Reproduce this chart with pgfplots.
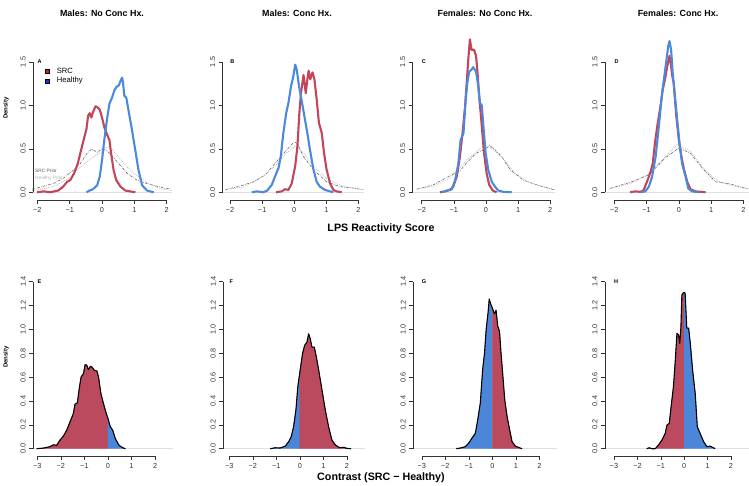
\documentclass[border=0pt]{standalone}
\usepackage{pgfplots}
\pgfplotsset{compat=1.18}
\usepackage{fontspec}
\setmainfont{Liberation Sans}
\definecolor{srcl}{HTML}{C2455A}
\definecolor{hell}{HTML}{4A89DC}
\definecolor{srcf}{HTML}{BB4A5E}
\definecolor{helf}{HTML}{4C86D9}
\definecolor{legr}{HTML}{D01C1C}
\definecolor{legb}{HTML}{1F2FE8}
\definecolor{axc}{HTML}{333333}
\pgfplotsset{
 base/.style={scale only axis, anchor=south west, clip=false, axis lines*=left,
   axis line style={draw=none}, tick align=outside, major tick length=4pt,
   tick style={axc, line width=0.5pt},
   tick label style={font=\fontsize{7.3}{8}\selectfont, text=axc},
   yticklabel style={rotate=90, anchor=south},
   xticklabel style={anchor=north},
   /pgf/number format/assume math mode=true},
 top/.style={base, ymin=-0.089, ymax=1.9, height=172.8pt, xmax=2.16,
   xtick={-2,-1,0,1,2}, xticklabels={−2,−1,0,1,2},
   ytick={0,0.5,1,1.5}, yticklabels={0.0,0.5,1.0,1.5}},
 bot/.style={base, ymin=-0.061, ymax=1.45, height=180.3pt, xmax=2.77,
   xtick={-3,-2,-1,0,1,2}, xticklabels={−3,−2,−1,0,1,2},
   ytick={0,0.2,0.4,0.6,0.8,1.0,1.2,1.4}, yticklabels={0.0,0.2,0.4,0.6,0.8,1.0,1.2,1.4}},
 srcline/.style={srcl, line width=2.1pt, line join=round},
 helline/.style={hell, line width=2.1pt, line join=round},
 sprior/.style={black!65, line width=0.55pt, dash pattern=on 2.5pt off 1.2pt on 0.6pt off 1.2pt},
 hprior/.style={black!30, line width=0.55pt, dash pattern=on 1pt off 1pt},
 zline/.style={black!12, line width=0.5pt, forget plot},
 outl/.style={black, line width=1.1pt, line join=round},
 rfill/.style={fill=srcf, draw=srcf, line width=0.4pt},
 bfill/.style={fill=helf, draw=helf, line width=0.4pt},
}
\newcommand{\topaxes}[1]{\draw[axc, line width=0.5pt] (axis cs:-2,-0.089) -- (axis cs:2,-0.089);
  \draw[axc, line width=0.5pt] (axis cs:#1,0) -- (axis cs:#1,1.5);}
\newcommand{\botaxes}[1]{\draw[axc, line width=0.5pt] (axis cs:-3,-0.061) -- (axis cs:2,-0.061);
  \draw[axc, line width=0.5pt] (axis cs:#1,0) -- (axis cs:#1,1.4);}
\newcommand{\plet}[3]{\node[anchor=west, inner sep=0pt, font=\bfseries\fontsize{5.5}{6}\selectfont] at (axis cs:#1,#2) {#3};}
\begin{document}
\begin{tikzpicture}[x=1pt,y=1pt]
\useasboundingbox (0,0) rectangle (749,486);
% ---------------- A ----------------
\begin{axis}[top, at={(33.3pt,286pt)}, xmin=-2.124, width=138.6pt]
\addplot[zline] coordinates {(-2.124,0) (2.16,0)};
\addplot[sprior] coordinates {(-2.16,0.035) (-1.8,0.07) (-1.5,0.1) (-1.2,0.16) (-0.93,0.24) (-0.67,0.33) (-0.46,0.45) (-0.31,0.5) (-0.15,0.46) (0.0,0.5) (0.15,0.48) (0.3,0.42) (0.52,0.33) (0.77,0.22) (1.08,0.14) (1.39,0.1) (1.7,0.07) (2.0,0.04) (2.15,0.05)};
\addplot[hprior] coordinates {(-2.16,0.02) (-1.8,0.04) (-1.4,0.08) (-1.0,0.17) (-0.67,0.29) (-0.26,0.41) (-0.05,0.45) (0.13,0.52) (0.3,0.5) (0.46,0.43) (0.7,0.32) (0.98,0.22) (1.39,0.11) (1.8,0.04) (2.15,0.02)};
\addplot[srcline] coordinates {(-2.01,0) (-1.8,0.01) (-1.6,0) (-1.35,0.02) (-1.2,0.065) (-1.08,0.12) (-0.98,0.14) (-0.86,0.22) (-0.75,0.33) (-0.67,0.45) (-0.57,0.6) (-0.48,0.73) (-0.43,0.88) (-0.38,0.91) (-0.33,0.86) (-0.28,0.92) (-0.2,0.99) (-0.15,0.98) (-0.07,0.95) (0,0.86) (0.07,0.75) (0.15,0.67) (0.23,0.6) (0.28,0.45) (0.36,0.25) (0.44,0.14) (0.57,0.065) (0.72,0.02) (0.87,0.01) (1.03,0)};
\addplot[helline] coordinates {(-0.48,0) (-0.38,0.02) (-0.28,0.035) (-0.15,0.08) (-0.07,0.18) (0,0.37) (0.07,0.6) (0.15,0.83) (0.23,1.02) (0.31,1.09) (0.38,1.17) (0.44,1.21) (0.52,1.23) (0.57,1.28) (0.62,1.32) (0.65,1.26) (0.69,1.11) (0.75,1.09) (0.82,0.94) (0.93,0.71) (1.03,0.48) (1.13,0.25) (1.24,0.08) (1.39,0.02) (1.6,0)};
\topaxes{-2.124}
\plet{-2}{1.5}{A}
\node[draw=black, line width=0.3pt, fill=legr, minimum size=4.5pt, inner sep=0pt] at (axis cs:-1.70,1.396) {};
\node[draw=black, line width=0.3pt, fill=legb, minimum size=4.5pt, inner sep=0pt] at (axis cs:-1.70,1.281) {};
\node[anchor=west, inner sep=0pt, font=\fontsize{7.6}{8}\selectfont] at (axis cs:-1.40,1.396) {SRC};
\node[anchor=west, inner sep=0pt, font=\fontsize{7.6}{8}\selectfont] at (axis cs:-1.40,1.281) {Healthy};
\node[anchor=west, inner sep=0pt, text=black!65, font=\fontsize{4.8}{5}\selectfont] at (axis cs:-2.07,0.245) {SRC Prior};
\node[anchor=west, inner sep=0pt, text=black!30, font=\fontsize{4.8}{5}\selectfont] at (axis cs:-2.07,0.165) {Healthy Prior};
\end{axis}
% ---------------- B ----------------
\begin{axis}[top, at={(222.7pt,286pt)}, xmin=-2.23, width=140.8pt]
\addplot[zline] coordinates {(-2.23,0) (2.16,0)};
\addplot[sprior] coordinates {(-2.15,0.03) (-1.7,0.07) (-1.27,0.12) (-0.9,0.2) (-0.65,0.31) (-0.4,0.42) (-0.2,0.5) (0,0.58) (0.1,0.56) (0.29,0.41) (0.6,0.26) (1.01,0.12) (1.43,0.065) (1.8,0.05) (2.15,0.03)};
\addplot[hprior] coordinates {(-2.15,0.03) (-1.6,0.06) (-1.1,0.15) (-0.6,0.3) (-0.25,0.45) (0.03,0.53) (0.3,0.45) (0.6,0.3) (1.0,0.16) (1.5,0.07) (2.15,0.03)};
\addplot[srcline] coordinates {(-0.57,0) (-0.39,0.01) (-0.29,0.035) (-0.18,0.027) (-0.08,0.1) (0.03,0.3) (0.1,0.53) (0.16,0.91) (0.21,1.14) (0.29,1.35) (0.36,1.14) (0.41,1.3) (0.45,1.4) (0.5,1.3) (0.57,1.38) (0.63,1.3) (0.7,1.07) (0.77,0.8) (0.86,0.68) (0.93,0.45) (1.01,0.26) (1.12,0.1) (1.22,0.027) (1.32,0.01) (1.48,0)};
\addplot[helline] coordinates {(-1.32,0) (-1.17,0.01) (-0.96,0) (-0.84,0.02) (-0.7,0.085) (-0.6,0.18) (-0.49,0.28) (-0.42,0.41) (-0.34,0.68) (-0.25,0.91) (-0.18,1.03) (-0.1,1.22) (-0.03,1.33) (0.03,1.47) (0.08,1.41) (0.15,1.22) (0.23,1.06) (0.31,0.89) (0.41,0.68) (0.49,0.49) (0.6,0.26) (0.7,0.12) (0.8,0.065) (0.96,0.027) (1.12,0.01) (1.22,0)};
\topaxes{-2.23}
\plet{-2}{1.5}{B}
\end{axis}
% ---------------- C ----------------
\begin{axis}[top, at={(412.7pt,286pt)}, xmin=-2.28, width=142.7pt]
\addplot[zline] coordinates {(-2.28,0) (2.16,0)};
\addplot[sprior] coordinates {(-2.15,0.035) (-1.64,0.085) (-1.12,0.19) (-0.8,0.25) (-0.6,0.34) (-0.3,0.45) (0.0,0.5) (0.1,0.54) (0.25,0.5) (0.49,0.41) (0.75,0.26) (1.16,0.14) (1.58,0.085) (2.1,0.03) (2.15,0.03)};
\addplot[hprior] coordinates {(-2.15,0.04) (-1.6,0.07) (-1.1,0.17) (-0.6,0.37) (-0.19,0.5) (-0.08,0.53) (0.2,0.5) (0.5,0.4) (0.9,0.22) (1.3,0.12) (1.8,0.06) (2.15,0.03)};
\addplot[srcline] coordinates {(-1.43,0) (-1.27,0.01) (-1.12,0.027) (-1.02,0.065) (-0.91,0.18) (-0.81,0.41) (-0.73,0.68) (-0.65,0.99) (-0.6,1.26) (-0.55,1.53) (-0.5,1.76) (-0.45,1.64) (-0.37,1.64) (-0.31,1.57) (-0.27,1.41) (-0.21,1.1) (-0.13,0.76) (-0.06,0.45) (0.02,0.22) (0.1,0.085) (0.21,0.02) (0.33,0)};
\addplot[helline] coordinates {(-1.37,0) (-1.22,0.02) (-1.06,0.035) (-0.96,0.14) (-0.86,0.33) (-0.79,0.6) (-0.7,0.68) (-0.63,1.07) (-0.58,1.26) (-0.52,1.39) (-0.45,1.41) (-0.4,1.44) (-0.31,1.39) (-0.24,1.22) (-0.19,1.03) (-0.13,1.0) (-0.08,0.76) (-0.01,0.45) (0.07,0.26) (0.18,0.12) (0.28,0.065) (0.38,0.02) (0.54,0.005) (0.8,0)};
\topaxes{-2.28}
\plet{-2}{1.5}{C}
\end{axis}
% ---------------- D ----------------
\begin{axis}[top, at={(605pt,286pt)}, xmin=-2.29, width=143.5pt]
\addplot[zline] coordinates {(-2.29,0) (2.16,0)};
\addplot[sprior] coordinates {(-2.13,0.045) (-1.46,0.12) (-0.93,0.2) (-0.41,0.4) (0,0.51) (0.36,0.45) (0.72,0.28) (1.14,0.12) (1.55,0.1) (2.07,0.045) (2.15,0.04)};
\addplot[hprior] coordinates {(-2.15,0.04) (-1.5,0.1) (-0.93,0.22) (-0.5,0.38) (-0.05,0.55) (0.36,0.47) (0.8,0.26) (1.2,0.13) (1.7,0.07) (2.15,0.04)};
\addplot[srcline] coordinates {(-1.51,0) (-1.36,0.01) (-1.2,0.005) (-1.1,0.02) (-1.0,0.11) (-0.89,0.22) (-0.81,0.33) (-0.74,0.57) (-0.67,0.76) (-0.57,0.99) (-0.5,1.18) (-0.43,1.3) (-0.36,1.45) (-0.29,1.57) (-0.24,1.45) (-0.21,1.35) (-0.16,1.26) (-0.08,0.88) (0,0.6) (0.08,0.41) (0.16,0.26) (0.26,0.12) (0.36,0.035) (0.52,0.01) (0.83,0)};
\addplot[helline] coordinates {(-1.19,0) (-1.04,0.01) (-0.93,0.065) (-0.83,0.18) (-0.72,0.41) (-0.62,0.76) (-0.52,1.14) (-0.41,1.45) (-0.33,1.68) (-0.29,1.74) (-0.24,1.64) (-0.19,1.37) (-0.12,1.1) (-0.05,0.83) (0.02,0.57) (0.1,0.33) (0.21,0.18) (0.29,0.045) (0.41,0.01) (0.62,0)};
\topaxes{-2.29}
\plet{-2}{1.5}{D}
\end{axis}
% ---------------- E ----------------
\begin{axis}[bot, at={(33.3pt,30pt)}, xmin=-3.17, width=139.9pt]
\addplot[zline] coordinates {(-3.17,0) (2.77,0)};
\addplot[rfill] coordinates {(-3.03,0) (-2.75,0.005) (-2.46,0.017) (-2.32,0.033) (-2.18,0.028) (-2.04,0.072) (-1.89,0.106) (-1.75,0.156) (-1.61,0.225) (-1.47,0.295) (-1.4,0.373) (-1.3,0.384) (-1.21,0.518) (-1.14,0.601) (-1.04,0.629) (-0.97,0.704) (-0.9,0.701) (-0.83,0.662) (-0.75,0.69) (-0.68,0.685) (-0.58,0.657) (-0.47,0.651) (-0.4,0.601) (-0.3,0.462) (-0.19,0.378) (-0.07,0.295) (0,0.253)} \closedcycle;
\addplot[bfill] coordinates {(0,0.253) (0.1,0.184) (0.2,0.156) (0.31,0.086) (0.46,0.031) (0.6,0.011) (0.74,0)} \closedcycle;
\addplot[outl] coordinates {(-3.03,0) (-2.75,0.005) (-2.46,0.017) (-2.32,0.033) (-2.18,0.028) (-2.04,0.072) (-1.89,0.106) (-1.75,0.156) (-1.61,0.225) (-1.47,0.295) (-1.4,0.373) (-1.3,0.384) (-1.21,0.518) (-1.14,0.601) (-1.04,0.629) (-0.97,0.704) (-0.9,0.701) (-0.83,0.662) (-0.75,0.69) (-0.68,0.685) (-0.58,0.657) (-0.47,0.651) (-0.4,0.601) (-0.3,0.462) (-0.19,0.378) (-0.07,0.295) (0,0.253) (0.1,0.184) (0.2,0.156) (0.31,0.086) (0.46,0.031) (0.6,0.011) (0.74,0)};
\botaxes{-3.17}
\plet{-3}{1.4}{E}
\end{axis}
% ---------------- F ----------------
\begin{axis}[bot, at={(223.3pt,30pt)}, xmin=-3.255, width=141.8pt]
\addplot[zline] coordinates {(-3.255,0) (2.77,0)};
\addplot[bfill] coordinates {(-1.26,0) (-1.05,0.008) (-0.84,0.006) (-0.62,0.022) (-0.48,0.058) (-0.37,0.1) (-0.27,0.184) (-0.17,0.323) (-0.09,0.518) (0,0.645)} \closedcycle;
\addplot[rfill] coordinates {(0,0.645) (0.11,0.796) (0.2,0.866) (0.3,0.893) (0.37,0.963) (0.44,0.921) (0.51,0.852) (0.61,0.852) (0.7,0.768) (0.8,0.657) (0.94,0.49) (1.08,0.323) (1.22,0.184) (1.36,0.072) (1.51,0.031) (1.69,0.008) (1.86,0.011) (2.0,0.003) (2.17,0)} \closedcycle;
\addplot[outl] coordinates {(-1.26,0) (-1.05,0.008) (-0.84,0.006) (-0.62,0.022) (-0.48,0.058) (-0.37,0.1) (-0.27,0.184) (-0.17,0.323) (-0.09,0.518) (0,0.645) (0.11,0.796) (0.2,0.866) (0.3,0.893) (0.37,0.963) (0.44,0.921) (0.51,0.852) (0.61,0.852) (0.7,0.768) (0.8,0.657) (0.94,0.49) (1.08,0.323) (1.22,0.184) (1.36,0.072) (1.51,0.031) (1.69,0.008) (1.86,0.011) (2.0,0.003) (2.17,0)};
\botaxes{-3.255}
\plet{-3}{1.4}{F}
\end{axis}
% ---------------- G ----------------
\begin{axis}[bot, at={(413.3pt,30pt)}, xmin=-3.36, width=144.1pt]
\addplot[zline] coordinates {(-3.36,0) (2.77,0)};
\addplot[bfill] coordinates {(-1.53,0) (-1.36,0.006) (-1.15,0.017) (-1.01,0.045) (-0.87,0.087) (-0.72,0.129) (-0.62,0.242) (-0.51,0.382) (-0.41,0.663) (-0.33,0.804) (-0.26,1.0) (-0.18,1.14) (-0.13,1.254) (-0.06,1.21) (0,1.18)} \closedcycle;
\addplot[rfill] coordinates {(0,1.18) (0.09,1.13) (0.16,1.16) (0.23,1.03) (0.31,0.98) (0.37,0.804) (0.44,0.635) (0.53,0.41) (0.63,0.27) (0.74,0.157) (0.84,0.059) (0.98,0.022) (1.12,0.011) (1.26,0)} \closedcycle;
\addplot[outl] coordinates {(-1.53,0) (-1.36,0.006) (-1.15,0.017) (-1.01,0.045) (-0.87,0.087) (-0.72,0.129) (-0.62,0.242) (-0.51,0.382) (-0.41,0.663) (-0.33,0.804) (-0.26,1.0) (-0.18,1.14) (-0.13,1.254) (-0.06,1.21) (0,1.18) (0.09,1.13) (0.16,1.16) (0.23,1.03) (0.31,0.98) (0.37,0.804) (0.44,0.635) (0.53,0.41) (0.63,0.27) (0.74,0.157) (0.84,0.059) (0.98,0.022) (1.12,0.011) (1.26,0)};
\botaxes{-3.36}
\plet{-3}{1.4}{G}
\end{axis}
% ---------------- H ----------------
\begin{axis}[bot, at={(605pt,30pt)}, xmin=-3.385, width=144.0pt]
\addplot[zline] coordinates {(-3.385,0) (2.77,0)};
\addplot[rfill] coordinates {(-1.6,0) (-1.5,0.008) (-1.38,0) (-1.24,0) (-1.1,0.031) (-0.95,0.073) (-0.81,0.129) (-0.74,0.198) (-0.64,0.212) (-0.56,0.352) (-0.46,0.52) (-0.38,0.743) (-0.31,0.967) (-0.24,0.953) (-0.19,0.883) (-0.14,1.02) (-0.1,1.288) (-0.03,1.308) (0,1.31)} \closedcycle;
\addplot[bfill] coordinates {(0,1.31) (0.04,1.302) (0.11,1.01) (0.19,1.01) (0.26,0.883) (0.36,0.659) (0.47,0.464) (0.56,0.184) (0.68,0.129) (0.83,0.059) (0.97,0.017) (1.11,0.022) (1.25,0.008) (1.32,0)} \closedcycle;
\addplot[outl] coordinates {(-1.6,0) (-1.5,0.008) (-1.38,0) (-1.24,0) (-1.1,0.031) (-0.95,0.073) (-0.81,0.129) (-0.74,0.198) (-0.64,0.212) (-0.56,0.352) (-0.46,0.52) (-0.38,0.743) (-0.31,0.967) (-0.24,0.953) (-0.19,0.883) (-0.14,1.02) (-0.1,1.288) (-0.03,1.308) (0,1.31) (0.04,1.302) (0.11,1.01) (0.19,1.01) (0.26,0.883) (0.36,0.659) (0.47,0.464) (0.56,0.184) (0.68,0.129) (0.83,0.059) (0.97,0.017) (1.11,0.022) (1.25,0.008) (1.32,0)};
\botaxes{-3.385}
\plet{-3}{1.4}{H}
\end{axis}
% ---------------- titles ----------------
\begin{scope}[every node/.style={font=\bfseries\fontsize{8.9}{10}\selectfont, inner sep=0pt}]
\node at (102,473) {Males: No Conc Hx.};
\node at (297,473) {Males: Conc Hx.};
\node at (485,473) {Females: No Conc Hx.};
\node at (678,473) {Females: Conc Hx.};
\end{scope}
\node[font=\bfseries\fontsize{10.7}{12}\selectfont, inner sep=0pt] at (381,257) {LPS Reactivity Score};
\node[font=\bfseries\fontsize{10.7}{12}\selectfont, inner sep=0pt] at (381,8) {Contrast (SRC − Healthy)};
\node[font=\bfseries\fontsize{6}{7}\selectfont, inner sep=0pt, rotate=90] at (6,378) {Density};
\node[font=\bfseries\fontsize{6}{7}\selectfont, inner sep=0pt, rotate=90] at (6,129) {Density};
\end{tikzpicture}
\end{document}
